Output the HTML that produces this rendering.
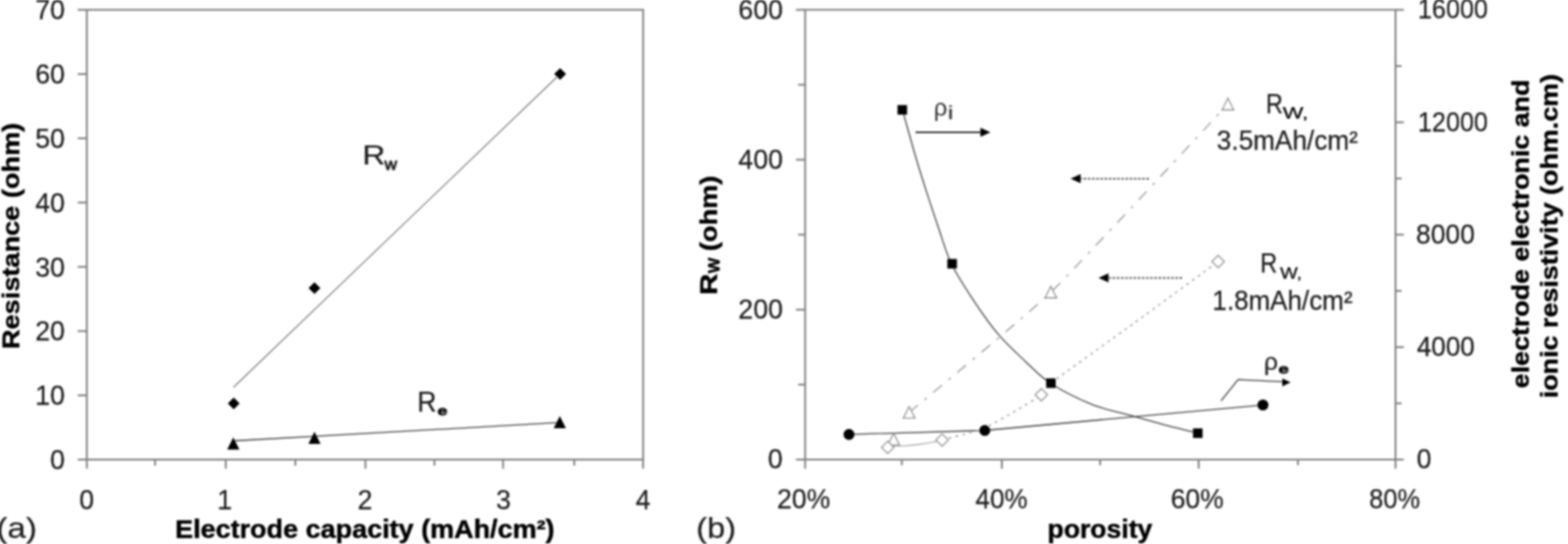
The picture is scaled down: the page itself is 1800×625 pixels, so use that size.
<!DOCTYPE html>
<html lang="en"><head><meta charset="utf-8"><title>Figure</title>
<style>
html,body{margin:0;padding:0;background:#fff;}
body{width:1800px;height:625px;overflow:hidden;}
svg{display:block;}
text{font-family:"Liberation Sans",Arial,Helvetica,sans-serif;fill:#1c1c1c;stroke:#1c1c1c;stroke-width:0.25px;}
.b{font-weight:bold;fill:#000;stroke:#000;stroke-width:0.5px;}
.ax{stroke:#808080;stroke-width:2.1;fill:none;}
.ln{stroke:#3a3a3a;stroke-width:1.3;fill:none;}
.lg{stroke:#949494;stroke-width:1.4;fill:none;}
</style></head><body>
<svg width="1800" height="625" viewBox="0 0 1800 625">
<defs><filter id="soft" x="0" y="0" width="1800" height="625" filterUnits="userSpaceOnUse"><feGaussianBlur stdDeviation="1"/></filter></defs>
<rect width="1800" height="625" fill="#fff"/>
<g id="all" filter="url(#soft)">

<rect class="ax" x="99.7" y="11.3" width="638.6" height="516.7"/>
<line class="ax" x1="89.2" y1="528.0" x2="99.7" y2="528.0"/>
<text class="t" x="57.4" y="539.0" font-size="30.6" textLength="17.0" lengthAdjust="spacingAndGlyphs">0</text>
<line class="ax" x1="89.2" y1="454.2" x2="99.7" y2="454.2"/>
<text class="t" x="40.4" y="465.2" font-size="30.6" textLength="34.0" lengthAdjust="spacingAndGlyphs">10</text>
<line class="ax" x1="89.2" y1="380.4" x2="99.7" y2="380.4"/>
<text class="t" x="40.4" y="391.4" font-size="30.6" textLength="34.0" lengthAdjust="spacingAndGlyphs">20</text>
<line class="ax" x1="89.2" y1="306.6" x2="99.7" y2="306.6"/>
<text class="t" x="40.4" y="317.6" font-size="30.6" textLength="34.0" lengthAdjust="spacingAndGlyphs">30</text>
<line class="ax" x1="89.2" y1="232.7" x2="99.7" y2="232.7"/>
<text class="t" x="40.4" y="243.7" font-size="30.6" textLength="34.0" lengthAdjust="spacingAndGlyphs">40</text>
<line class="ax" x1="89.2" y1="158.9" x2="99.7" y2="158.9"/>
<text class="t" x="40.4" y="169.9" font-size="30.6" textLength="34.0" lengthAdjust="spacingAndGlyphs">50</text>
<line class="ax" x1="89.2" y1="85.1" x2="99.7" y2="85.1"/>
<text class="t" x="40.4" y="96.1" font-size="30.6" textLength="34.0" lengthAdjust="spacingAndGlyphs">60</text>
<line class="ax" x1="89.2" y1="11.3" x2="99.7" y2="11.3"/>
<text class="t" x="40.4" y="22.3" font-size="30.6" textLength="34.0" lengthAdjust="spacingAndGlyphs">70</text>
<line class="ax" x1="99.7" y1="528" x2="99.7" y2="538.5"/>
<text class="t" x="91.1" y="584.7" font-size="30.6" textLength="17.0" lengthAdjust="spacingAndGlyphs">0</text>
<line class="ax" x1="178.0" y1="528" x2="178.0" y2="535"/>
<line class="ax" x1="259.2" y1="528" x2="259.2" y2="538.5"/>
<text class="t" x="249.5" y="584.7" font-size="30.6" textLength="17.0" lengthAdjust="spacingAndGlyphs">1</text>
<line class="ax" x1="339.0" y1="528" x2="339.0" y2="535"/>
<line class="ax" x1="419.5" y1="528" x2="419.5" y2="538.5"/>
<text class="t" x="410.5" y="584.7" font-size="30.6" textLength="17.0" lengthAdjust="spacingAndGlyphs">2</text>
<line class="ax" x1="498.7" y1="528" x2="498.7" y2="535"/>
<line class="ax" x1="577.5" y1="528" x2="577.5" y2="538.5"/>
<text class="t" x="569.5" y="584.7" font-size="30.6" textLength="17.0" lengthAdjust="spacingAndGlyphs">3</text>
<line class="ax" x1="659.2" y1="528" x2="659.2" y2="535"/>
<line class="ax" x1="738.2" y1="528" x2="738.2" y2="538.5"/>
<text class="t" x="729.7" y="584.7" font-size="30.6" textLength="17.0" lengthAdjust="spacingAndGlyphs">4</text>
<text class="b" x="201.0" y="618.0" font-size="29" textLength="435.6" lengthAdjust="spacingAndGlyphs">Electrode capacity (mAh/cm²)</text>
<text class="b" x="-401.0" y="22.0" font-size="28.5" textLength="260.0" lengthAdjust="spacingAndGlyphs" transform="rotate(-90)">Resistance (ohm)</text>
<text class="t" x="-4.3" y="617.5" font-size="34" textLength="46.7" lengthAdjust="spacingAndGlyphs">(a)</text>
<path class="ln" style="stroke:#6a6a6a;stroke-width:1.05" d="M268,445 L643,85"/>
<path class="ln" d="M268,506.5 L643,485.4"/>
<path d="M261.5,463.5 L268.3,456.7 L275.1,463.5 L268.3,470.3 Z" fill="#000" stroke="none" stroke-width="1.4"/>
<path d="M354.2,331.0 L361.0,324.2 L367.8,331.0 L361.0,337.8 Z" fill="#000" stroke="none" stroke-width="1.4"/>
<path d="M636.2,85.0 L643.0,78.2 L649.8,85.0 L643.0,91.8 Z" fill="#000" stroke="none" stroke-width="1.4"/>
<path d="M260.8,516.6 L267.8,502.6 L274.8,516.6 Z" fill="#000" stroke="none" stroke-width="1.4"/>
<path d="M354.0,510.0 L361.0,496.0 L368.0,510.0 Z" fill="#000" stroke="none" stroke-width="1.4"/>
<path d="M635.6,492.0 L642.6,478.0 L649.6,492.0 Z" fill="#000" stroke="none" stroke-width="1.4"/>
<text class="t"><tspan x="415.9" y="189.3" font-size="30.6" textLength="26.3" lengthAdjust="spacingAndGlyphs" style="stroke-width:0.2px">R</tspan><tspan x="441.5" y="195.4" font-size="18.5" textLength="14.2" lengthAdjust="spacingAndGlyphs" style="stroke-width:0.9px">w</tspan></text>
<text class="t"><tspan x="478.9" y="473.0" font-size="34" textLength="22.1" lengthAdjust="spacingAndGlyphs" style="stroke-width:0.2px">R</tspan><tspan x="502.2" y="477.0" font-size="15.5" textLength="11.2" lengthAdjust="spacingAndGlyphs" style="fill:#000;font-weight:bold;stroke-width:1px">e</tspan></text>
<path class="ax" d="M924.3,11.3 H1602 V528 H924.3 Z"/>
<line class="ax" x1="913.8" y1="528.0" x2="924.3" y2="528.0"/>
<text class="t" x="881.6" y="538.4" font-size="30.6" textLength="17.0" lengthAdjust="spacingAndGlyphs">0</text>
<line class="ax" x1="916.3" y1="441.9" x2="924.3" y2="441.9"/>
<line class="ax" x1="913.8" y1="355.8" x2="924.3" y2="355.8"/>
<text class="t" x="847.6" y="366.2" font-size="30.6" textLength="51.1" lengthAdjust="spacingAndGlyphs">200</text>
<line class="ax" x1="916.3" y1="269.6" x2="924.3" y2="269.6"/>
<line class="ax" x1="913.8" y1="183.5" x2="924.3" y2="183.5"/>
<text class="t" x="847.6" y="193.9" font-size="30.6" textLength="51.1" lengthAdjust="spacingAndGlyphs">400</text>
<line class="ax" x1="916.3" y1="97.4" x2="924.3" y2="97.4"/>
<line class="ax" x1="913.8" y1="11.3" x2="924.3" y2="11.3"/>
<text class="t" x="847.6" y="21.7" font-size="30.6" textLength="51.1" lengthAdjust="spacingAndGlyphs">600</text>
<line class="ax" x1="1602" y1="528.0" x2="1611.5" y2="528.0"/>
<text class="t" x="1626.3" y="538.0" font-size="30.6" textLength="17.0" lengthAdjust="spacingAndGlyphs">0</text>
<line class="ax" x1="1602" y1="463.4" x2="1609" y2="463.4"/>
<line class="ax" x1="1602" y1="398.8" x2="1611.5" y2="398.8"/>
<text class="t" x="1626.4" y="408.8" font-size="30.6" textLength="66.6" lengthAdjust="spacingAndGlyphs">4000</text>
<line class="ax" x1="1602" y1="334.2" x2="1609" y2="334.2"/>
<line class="ax" x1="1602" y1="269.6" x2="1611.5" y2="269.6"/>
<text class="t" x="1625.6" y="279.6" font-size="30.6" textLength="67.4" lengthAdjust="spacingAndGlyphs">8000</text>
<line class="ax" x1="1602" y1="205.1" x2="1609" y2="205.1"/>
<line class="ax" x1="1602" y1="140.5" x2="1611.5" y2="140.5"/>
<text class="t" x="1627.8" y="150.5" font-size="30.6" textLength="80.2" lengthAdjust="spacingAndGlyphs">12000</text>
<line class="ax" x1="1602" y1="75.9" x2="1609" y2="75.9"/>
<line class="ax" x1="1602" y1="11.3" x2="1611.5" y2="11.3"/>
<text class="t" x="1627.8" y="21.3" font-size="30.6" textLength="80.2" lengthAdjust="spacingAndGlyphs">16000</text>
<line class="ax" x1="924.3" y1="528" x2="924.3" y2="538.5"/>
<text class="t" x="892.0" y="583.5" font-size="30.6" textLength="61.1" lengthAdjust="spacingAndGlyphs">20%</text>
<line class="ax" x1="1035.3" y1="528" x2="1035.3" y2="534.5"/>
<line class="ax" x1="1150.1" y1="528" x2="1150.1" y2="538.5"/>
<text class="t" x="1119.8" y="583.5" font-size="30.6" textLength="59.9" lengthAdjust="spacingAndGlyphs">40%</text>
<line class="ax" x1="1262.9" y1="528" x2="1262.9" y2="534.5"/>
<line class="ax" x1="1376.0" y1="528" x2="1376.0" y2="538.5"/>
<text class="t" x="1343.9" y="583.5" font-size="30.6" textLength="60.8" lengthAdjust="spacingAndGlyphs">60%</text>
<line class="ax" x1="1490.0" y1="528" x2="1490.0" y2="534.5"/>
<line class="ax" x1="1602.0" y1="528" x2="1602.0" y2="538.5"/>
<text class="t" x="1571.7" y="583.5" font-size="30.6" textLength="58.4" lengthAdjust="spacingAndGlyphs">80%</text>
<text class="b" x="1202.5" y="618.0" font-size="29" textLength="120.3" lengthAdjust="spacingAndGlyphs">porosity</text>
<text class="t" x="799.3" y="617.5" font-size="34" textLength="45.6" lengthAdjust="spacingAndGlyphs">(b)</text>
<text class="b" transform="rotate(-90)"><tspan x="-338.9" y="822.6" font-size="28.5" textLength="24.7" lengthAdjust="spacingAndGlyphs">R</tspan><tspan x="-314.0" y="826.0" font-size="19" textLength="18.0" lengthAdjust="spacingAndGlyphs">W</tspan><tspan x="-297.3" y="822.6" font-size="28.5" textLength="95.5" lengthAdjust="spacingAndGlyphs"> (ohm)</tspan></text>
<text class="b" x="-446.2" y="1754.5" font-size="28.5" textLength="354.7" lengthAdjust="spacingAndGlyphs" transform="rotate(-90)">electrode electronic and</text>
<text class="b" x="-457.6" y="1788.0" font-size="28.5" textLength="372.7" lengthAdjust="spacingAndGlyphs" transform="rotate(-90)">ionic resistivity (ohm.cm)</text>
<path class="ln" d="M1035.9,125.8 C1038.3,134.4 1045.7,161.3 1050.3,177.2 C1054.9,193.0 1059.3,206.9 1063.8,220.9 C1068.3,234.9 1072.5,247.5 1077.2,261.2 C1082.0,274.9 1085.4,289.0 1092.3,303.2 C1099.2,317.4 1109.4,332.7 1118.4,346.3 C1127.4,359.9 1136.7,373.2 1146.5,384.7 C1156.3,396.2 1167.3,406.1 1177.3,415.4 C1187.2,424.7 1193.4,432.3 1206.2,440.5 C1219.0,448.7 1238.0,458.5 1254.0,464.8 C1270.0,471.1 1288.7,474.6 1302.0,478.4 C1315.3,482.1 1321.8,484.1 1334.0,487.3 C1346.2,490.5 1368.2,495.9 1375.0,497.6"/>
<path class="ln" d="M974.6,499.1 L1130.5,494.5 L1449.8,465.3"/>
<path class="lg" stroke-dasharray="13 10 3 10" d="M1043.7,473.8 C1057.2,462.3 1175.8,365.2 1206.3,335.7 C1236.8,306.2 1392.7,137.6 1409.6,119.6"/>
<path class="lg" style="stroke:#999;stroke-width:1.1" d="M1025,512.5 C1045,512.5 1062,510 1076,507"/>
<path class="lg" stroke-dasharray="3 5" d="M1081.5,505.5 C1086.2,504.2 1119.5,495.9 1128.0,492.5 C1136.5,489.1 1159.3,475.9 1166.0,472.0 C1172.7,468.1 1191.4,456.8 1195.4,453.6 C1199.4,450.5 1195.4,448.7 1206.0,440.5 C1216.6,432.3 1282.5,385.3 1301.7,371.3 C1320.9,357.3 1388.7,307.7 1398.4,300.6"/>
<rect x="1030.3" y="120.7" width="11.0" height="11.0" fill="#000"/>
<rect x="1087.5" y="297.5" width="11.0" height="11.0" fill="#000"/>
<rect x="1200.9" y="434.7" width="11.0" height="11.0" fill="#000"/>
<rect x="1369.5" y="492.2" width="11.0" height="11.0" fill="#000"/>
<circle cx="974.6" cy="499.1" r="6.3" fill="#000"/>
<circle cx="1130.5" cy="494.5" r="6.3" fill="#000"/>
<circle cx="1449.8" cy="465.3" r="6.3" fill="#000"/>
<path d="M1037.1,480.4 L1043.7,467.2 L1050.3,480.4 Z" fill="#fff" stroke="#8a8a8a" stroke-width="1.4"/>
<path d="M1199.7,342.3 L1206.3,329.1 L1212.9,342.3 Z" fill="#fff" stroke="#8a8a8a" stroke-width="1.4"/>
<path d="M1403.0,126.2 L1409.6,113.0 L1416.2,126.2 Z" fill="#fff" stroke="#8a8a8a" stroke-width="1.4"/>
<path d="M1019.3,511.1 L1025.9,497.9 L1032.5,511.1 Z" fill="#fff" stroke="#8a8a8a" stroke-width="1.4"/>
<path d="M1012.0,514.0 L1019.0,507.0 L1026.0,514.0 L1019.0,521.0 Z" fill="#fff" stroke="#8a8a8a" stroke-width="1.4"/>
<path d="M1074.5,505.5 L1081.5,498.5 L1088.5,505.5 L1081.5,512.5 Z" fill="#fff" stroke="#8a8a8a" stroke-width="1.4"/>
<path d="M1188.4,453.6 L1195.4,446.6 L1202.4,453.6 L1195.4,460.6 Z" fill="#fff" stroke="#8a8a8a" stroke-width="1.4"/>
<path d="M1391.4,300.4 L1398.4,293.4 L1405.4,300.4 L1398.4,307.4 Z" fill="#fff" stroke="#8a8a8a" stroke-width="1.4"/>
<line x1="1051" y1="152" x2="1128" y2="152" stroke="#333" stroke-width="1.8"/><path d="M1137,152 L1125.5,146.8 L1125.5,157.2 Z" fill="#000"/>
<line x1="1319" y1="205.3" x2="1238" y2="205.3" stroke="#4a4a4a" stroke-width="1.8" stroke-dasharray="3 1.8"/><path d="M1229,205.3 L1240.5,200.10000000000002 L1240.5,210.5 Z" fill="#000"/>
<line x1="1357" y1="319.3" x2="1270" y2="319.3" stroke="#4a4a4a" stroke-width="1.8" stroke-dasharray="3 1.8"/><path d="M1261,319.3 L1272.5,314.1 L1272.5,324.5 Z" fill="#000"/>
<path d="M1401.6,460.7 L1421.3,436.2 L1473,438.6" stroke="#333" stroke-width="1.3" fill="none"/><path d="M1481.5,439.3 L1472,434.8 L1472,444 Z" fill="#000"/>
<text class="t"><tspan x="1072.0" y="132.5" font-size="27" textLength="15.5" lengthAdjust="spacingAndGlyphs" style="fill:#333;stroke-width:0">ρ</tspan><tspan x="1088.1" y="137.0" font-size="22" textLength="6.4" lengthAdjust="spacingAndGlyphs" style="fill:#333;stroke-width:0.2px">i</tspan></text>
<text class="t"><tspan x="1451.0" y="424.5" font-size="28" textLength="16.1" lengthAdjust="spacingAndGlyphs" style="stroke-width:0.2px">ρ</tspan><tspan x="1467.7" y="428.5" font-size="15" textLength="11.6" lengthAdjust="spacingAndGlyphs" style="fill:#000;font-weight:bold;stroke-width:1px">e</tspan></text>
<text class="t"><tspan x="1453.3" y="130.0" font-size="30.6" textLength="19.4" lengthAdjust="spacingAndGlyphs">R</tspan><tspan x="1472.4" y="136.4" font-size="18" textLength="29.3" lengthAdjust="spacingAndGlyphs" style="fill:#000">W,</tspan><tspan x="1388.5" y="172.0" font-size="30.6" textLength="170.2" lengthAdjust="spacingAndGlyphs"> 3.5mAh/cm²</tspan></text>
<text class="t"><tspan x="1446.8" y="313.2" font-size="30.6" textLength="19.4" lengthAdjust="spacingAndGlyphs">R</tspan><tspan x="1469.4" y="319.6" font-size="18" textLength="25.0" lengthAdjust="spacingAndGlyphs" style="fill:#000">W,</tspan><tspan x="1383.5" y="356.0" font-size="30.6" textLength="169.1" lengthAdjust="spacingAndGlyphs"> 1.8mAh/cm²</tspan></text>
</g></svg></body></html>
